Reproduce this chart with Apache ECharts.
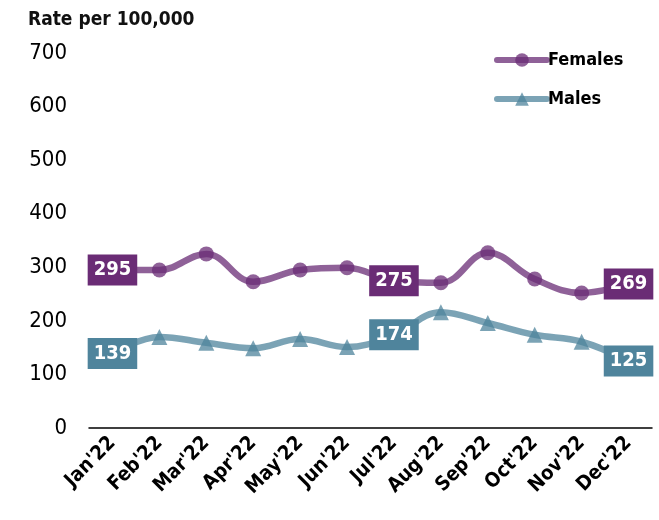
<!DOCTYPE html>
<html>
<head>
<meta charset="utf-8">
<script src="https://cdn.jsdelivr.net/npm/echarts@6/dist/echarts.min.js"></script>
<style>
  html, body { margin: 0; padding: 0; background: #fff; }
  #main { width: 659px; height: 520px; }
</style>
</head>
<body>
<div id="main"></div>
<script>
var months = ["Jan'22", "Feb'22", "Mar'22", "Apr'22", "May'22", "Jun'22",
              "Jul'22", "Aug'22", "Sep'22", "Oct'22", "Nov'22", "Dec'22"];
var females = [295, 295, 325, 273, 295, 299, 275, 271, 327, 278, 252, 269];
var males = [139, 170, 159, 149, 166, 151, 174, 216, 196, 174, 161, 125];
var labelled = [0, 6, 11]; // months that carry a value box

var font = "'DejaVu Sans Condensed', 'Liberation Sans Narrow', sans-serif";

function withLabels(values, bg) {
    return values.map(function (v, i) {
        if (labelled.indexOf(i) < 0) return v;
        return {
            value: v,
            label: {
                show: true,
                position: 'inside',
                color: '#fff',
                fontFamily: font,
                fontWeight: 'bold',
                fontSize: 20,
                backgroundColor: bg,
                padding: [6, 6, 5, 6]
            }
        };
    });
}

var chart = echarts.init(document.getElementById('main'));
chart.setOption({
    animation: false,
    title: {
        text: 'Rate per 100,000',
        left: 23,
        top: 6,
        textStyle: { fontFamily: font, fontSize: 19, fontWeight: 'bold', color: '#111' }
    },
    legend: {
        left: 489,
        top: 46,
        orient: 'vertical',
        itemWidth: 50,
        itemHeight: 17,
        itemGap: 21,
        textStyle: { fontFamily: font, fontSize: 18, fontWeight: 'bold', color: '#000', padding: [0, 0, 0, -4] },
        lineStyle: { width: 6, cap: 'round' },
        data: ['Females', 'Males']
    },
    grid: { left: 89, right: 7, top: 53, bottom: 92 },
    xAxis: {
        type: 'category',
        data: months,
        boundaryGap: true,
        axisLine: { lineStyle: { color: '#000', width: 1.5 } },
        axisTick: { length: 8, lineStyle: { color: '#000', width: 1.5 } },
        axisLabel: {
            rotate: 45,
            interval: 0,
            margin: 12,
            fontFamily: font,
            fontSize: 20,
            fontWeight: 'bold',
            color: '#000'
        }
    },
    yAxis: {
        type: 'value',
        min: 0,
        max: 700,
        interval: 100,
        axisLine: { show: false },
        axisTick: { show: false },
        splitLine: { show: false },
        axisLabel: { fontFamily: font, fontSize: 22, color: '#000', margin: 22 }
    },
    series: [
        {
            name: 'Females',
            type: 'line',
            smooth: 0.4,
            data: withLabels(females, '#6A2C75'),
            symbol: 'circle',
            symbolSize: 15,
            lineStyle: { width: 6.5, color: 'rgba(106,44,117,0.75)', cap: 'round' },
            itemStyle: { color: 'rgba(106,44,117,0.75)' },
            z: 3
        },
        {
            name: 'Males',
            type: 'line',
            smooth: 0.4,
            data: withLabels(males, '#4F849C'),
            symbol: 'triangle',
            symbolSize: 16,
            lineStyle: { width: 6.5, color: 'rgba(79,132,156,0.75)', cap: 'round' },
            itemStyle: { color: 'rgba(79,132,156,0.75)' },
            z: 2
        }
    ]
});
</script>
</body>
</html>
